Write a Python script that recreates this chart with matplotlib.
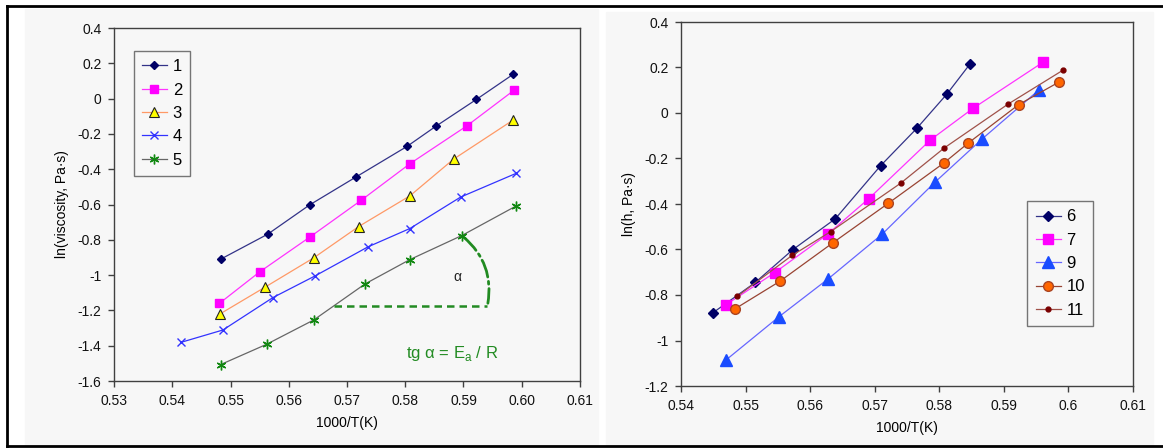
import matplotlib
matplotlib.use("Agg")
import matplotlib.pyplot as plt
from matplotlib.lines import Line2D
from matplotlib.patches import Rectangle, FancyArrowPatch

plt.rcParams['font.family'] = ['Liberation Sans', 'DejaVu Sans']

# left panel data: ln(viscosity) vs 1000/T
x1 = [0.5483, 0.5564, 0.5636, 0.5715, 0.5803, 0.5852, 0.5922, 0.5985]
y1 = [-0.910, -0.768, -0.602, -0.445, -0.271, -0.158, -0.005, 0.137]
x2 = [0.5481, 0.5550, 0.5636, 0.5724, 0.5808, 0.5906, 0.5987]
y2 = [-1.160, -0.982, -0.785, -0.577, -0.369, -0.154, 0.048]
x3 = [0.5482, 0.5560, 0.5643, 0.5720, 0.5808, 0.5883, 0.5985]
y3 = [-1.220, -1.067, -0.902, -0.725, -0.551, -0.343, -0.122]
x4 = [0.5415, 0.5487, 0.5573, 0.5645, 0.5736, 0.5808, 0.5895, 0.5990]
y4 = [-1.381, -1.311, -1.127, -1.005, -0.840, -0.736, -0.558, -0.424]
x5 = [0.5483, 0.5562, 0.5643, 0.5731, 0.5808, 0.5897, 0.5990]
y5 = [-1.507, -1.392, -1.254, -1.050, -0.912, -0.776, -0.609]

# right panel data
x6 = [0.5449, 0.5515, 0.5573, 0.5639, 0.5709, 0.5765, 0.5812, 0.5848]
y6 = [-0.879, -0.745, -0.601, -0.465, -0.232, -0.068, 0.084, 0.217]
x7 = [0.5469, 0.5545, 0.5627, 0.5691, 0.5786, 0.5852, 0.5960]
y7 = [-0.844, -0.702, -0.533, -0.376, -0.119, 0.020, 0.222]
x9 = [0.5470, 0.5552, 0.5628, 0.5711, 0.5793, 0.5866, 0.5955]
y9 = [-1.085, -0.895, -0.729, -0.534, -0.305, -0.115, 0.103]
x10 = [0.5483, 0.5553, 0.5635, 0.5721, 0.5807, 0.5844, 0.5923, 0.5986]
y10 = [-0.862, -0.740, -0.571, -0.397, -0.220, -0.134, 0.037, 0.137]
x11 = [0.5487, 0.5572, 0.5632, 0.5740, 0.5808, 0.5907, 0.5992]
y11 = [-0.806, -0.626, -0.521, -0.309, -0.153, 0.040, 0.189]

left_xticks = [0.53, 0.54, 0.55, 0.56, 0.57, 0.58, 0.59, 0.60, 0.61]
left_xlabels = ["0.53", "0.54", "0.55", "0.56", "0.57", "0.58", "0.59", "0.60", "0.61"]
left_yticks = [0.4, 0.2, 0, -0.2, -0.4, -0.6, -0.8, -1, -1.2, -1.4, -1.6]
right_xticks = [0.54, 0.55, 0.56, 0.57, 0.58, 0.59, 0.6, 0.61]
right_xlabels = ["0.54", "0.55", "0.56", "0.57", "0.58", "0.59", "0.6", "0.61"]
right_yticks = [0.4, 0.2, 0, -0.2, -0.4, -0.6, -0.8, -1, -1.2]

W, H = 1163, 448
fig = plt.figure(figsize=(W / 100, H / 100), dpi=100)
fig.patch.set_facecolor("white")

panel_bg = "#f7f7f7"
# panel backgrounds and outer frame
fig.add_artist(Rectangle((25 / W, 1 - 445 / H), (598 - 25) / W, (445 - 9) / H,
                         transform=fig.transFigure, color=panel_bg, zorder=0))
fig.add_artist(Rectangle((606 / W, 1 - 445 / H), (1153 - 606) / W, (445 - 12) / H,
                         transform=fig.transFigure, color=panel_bg, zorder=0))
fig.add_artist(Line2D([7 / W, 1], [1 - 6 / H, 1 - 6 / H], transform=fig.transFigure, color="black", lw=2))
fig.add_artist(Line2D([7 / W, 1], [1 - 446 / H, 1 - 446 / H], transform=fig.transFigure, color="black", lw=2))
fig.add_artist(Line2D([7 / W, 7 / W], [1 - 6 / H, 1 - 446 / H], transform=fig.transFigure, color="black", lw=2))

ax1 = fig.add_axes([114 / W, 1 - 381 / H, (580 - 114) / W, (381 - 28) / H])
ax2 = fig.add_axes([681 / W, 1 - 386 / H, (1133 - 681) / W, (386 - 22) / H])


def style_axes(ax, xticks, xlabels, yticks, xlim, ylim):
  ax.set_facecolor(panel_bg)
  ax.set_xlim(*xlim)
  ax.set_ylim(*ylim)
  ax.set_xticks(xticks)
  ax.set_xticklabels(xlabels)
  ax.set_yticks(yticks)
  ax.set_yticklabels([f"{t:g}" for t in yticks])
  for s in ax.spines.values():
    s.set_color("#404040")
    s.set_linewidth(1)
  ax.tick_params(direction="out", length=4, width=1, color="#404040", labelsize=10,
                 labelcolor="#111111", pad=5)
  ax.set_xlabel("1000/T(K)", fontsize=10, labelpad=6)


def add_legend(ax, anchor):
  leg = ax.legend(loc="upper left", bbox_to_anchor=anchor, fontsize=12, frameon=True,
                  fancybox=False, handlelength=1.5, handletextpad=0.35, labelspacing=0.5,
                  borderpad=0.5, borderaxespad=0)
  leg.get_frame().set_edgecolor("#555555")
  leg.get_frame().set_facecolor(panel_bg)
  leg.get_frame().set_linewidth(1)
  return leg


# left chart
ax1.plot(x1, y1, color="#333388", lw=0.9, marker="D", ms=4.5, mfc="#000066", mec="#000066", label="1")
ax1.plot(x2, y2, color="#ff33ff", lw=0.9, marker="s", ms=6, mfc="#ff00ff", mec="#ff00ff", label="2")
ax1.plot(x3, y3, color="#ff9966", lw=0.9, marker="^", ms=7, mfc="#ffff00", mec="#222222", mew=0.8, label="3")
ax1.plot(x4, y4, color="#3333ff", lw=0.9, marker="x", ms=6, mec="#3333ff", mew=1, label="4")
ax1.plot(x5, y5, color="#666666", lw=0.9, marker=(6, 2, 0), ms=7, mec="#118811", mew=1, label="5")
style_axes(ax1, left_xticks, left_xlabels, left_yticks, (0.53, 0.61), (-1.6, 0.4))
ax1.set_ylabel("ln(viscosity, Pa·s)", fontsize=10, labelpad=6)
add_legend(ax1, (0.042, 0.935))

# slope annotation
green = "#228b22"
ax1.plot([0.5678, 0.5941], [-1.175, -1.175], color=green, lw=1.8, ls=(0, (3, 2)))
arc = FancyArrowPatch((0.5897, -0.776), (0.5941, -1.175), connectionstyle="arc3,rad=-0.3",
                      arrowstyle="-", color=green, lw=2, ls="-.")
ax1.add_patch(arc)
ax1.text(0.5890, -1.008, "α", fontsize=10, ha="center", va="center", color="#222222")
ax1.text(0.5880, -1.443, r"tg α = E$_\mathregular{a}$ / R", fontsize=12, ha="center", va="center",
         color=green)

# right chart
ax2.plot(x6, y6, color="#333388", lw=0.9, marker="D", ms=5.5, mfc="#000066", mec="#000066", label="6")
ax2.plot(x7, y7, color="#ff33ff", lw=0.9, marker="s", ms=7.5, mfc="#ff00ff", mec="#ff00ff", label="7")
ax2.plot(x9, y9, color="#6666ff", lw=0.9, marker="^", ms=8, mfc="#1a4cff", mec="#1a4cff", label="9")
ax2.plot(x10, y10, color="#994433", lw=0.9, marker="o", ms=7, mfc="#ff6600", mec="#aa4422", label="10")
ax2.plot(x11, y11, color="#a0524a", lw=0.9, marker="o", ms=3.5, mfc="#7a0000", mec="#7a0000", label="11")
style_axes(ax2, right_xticks, right_xlabels, right_yticks, (0.54, 0.61), (-1.2, 0.4))
ax2.set_ylabel("ln(h, Pa·s)", fontsize=10, labelpad=6)
add_legend(ax2, (0.766, 0.508))

fig.savefig("out.png", dpi=100, facecolor=fig.get_facecolor())
